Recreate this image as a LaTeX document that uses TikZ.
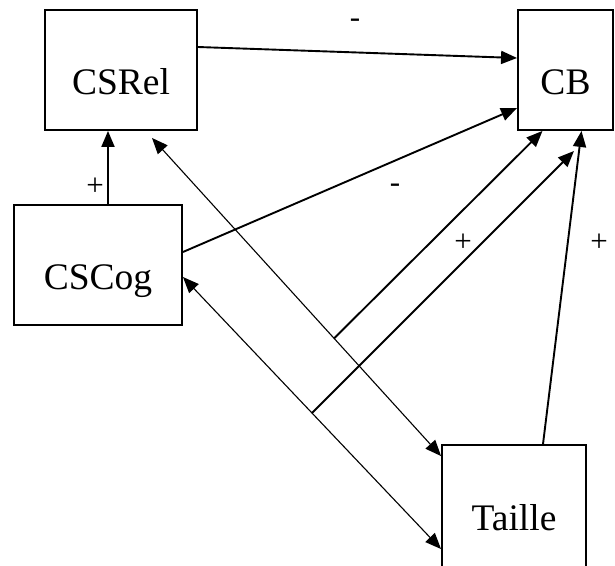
\documentclass[tikz,border=0pt]{standalone}
\usepackage{fontspec}
\setmainfont{Liberation Serif}
\usepackage{tikz}
\usetikzlibrary{arrows.meta,positioning}

\tikzset{
  var/.style={draw, line width=1.9pt, inner sep=0pt, minimum height=120pt,
    text height=52pt, text depth=4pt, font=\fontsize{37.5}{40}\selectfont},
  effect/.style={line width=1.9pt, -{Triangle[length=16pt,width=13pt]}},
  corr/.style={line width=1.1pt,
    {Triangle[length=16pt,width=13pt]}-{Triangle[length=16pt,width=13pt]}},
  sign/.style={font=\fontsize{31}{33}\selectfont, inner sep=0pt}
}

\begin{document}
\begin{tikzpicture}[x=1pt,y=-1pt]
    \useasboundingbox (0,0) rectangle (615,565);

    % Variables
    \node[var, minimum width=152pt] (csrel) at (121,70) {CSRel};
    \node[var, minimum width=95pt] (cb) at (565.5,70) {CB};
    \node[var, minimum width=168pt] (cscog) at (98,265) {CSCog};
    \node[var, minimum width=144pt, minimum height=122pt] (taille) at (514,506) {Taille};

    % Direct effects
    \draw[effect] ([yshift=23pt]csrel.east) -- ([yshift=12pt]cb.west);
    \draw[effect] ([xshift=10pt]cscog.north) -- ([xshift=-13pt]csrel.south);
    \draw[effect] ([yshift=13pt]cscog.east) -- ([yshift=-38pt]cb.west);
    \draw[effect] ([xshift=29pt]taille.north) -- ([xshift=16pt]cb.south);

    % Covariances (with points for interaction terms)
    \draw[corr] ([xshift=31pt,yshift=-7pt]csrel.south) -- ([yshift=-12pt]taille.north west)
        coordinate[pos=0.63] (relxt);
    \draw[corr] ([yshift=-12pt]cscog.east) -- ([yshift=-105pt]taille.north west)
        coordinate[pos=0.5] (cogxt);

    % Interaction effects
    \coordinate (cbend) at ([xshift=8.5pt,yshift=-20pt]cb.south);
    \draw[effect] (relxt) -- ([xshift=-23pt]cb.south);
    \draw[effect] (cogxt) -- (cbend);

    % Signs
    \node[sign] (s1) at (355,23) {-};
    \node[sign] (s2) at (95,187) {+};
    \node[sign] (s3) at (395,188) {-};
    \node[sign] (s4) at (463,243) {+};
    \node[sign] (s5) at (599,243) {+};

\end{tikzpicture}
\end{document}
